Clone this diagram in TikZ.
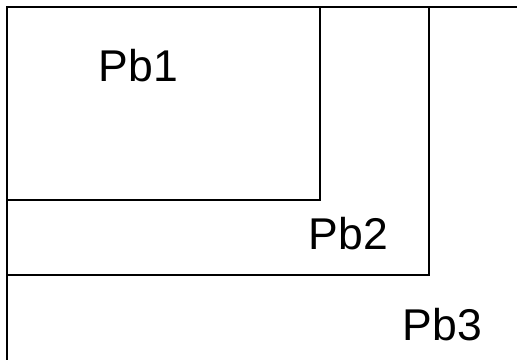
\documentclass[tikz,border=0pt]{standalone}
\usepackage{fontspec}
\setmainfont{Liberation Sans}
\begin{document}
\begin{tikzpicture}[x=1pt,y=1pt,
  boxline/.style={draw=black,line width=1.1pt},
  outerline/.style={draw=black,line width=2pt},
  lbl/.style={anchor=base west,inner sep=0pt,font=\fontsize{44.5}{50}\selectfont}]
\useasboundingbox (0,0) rectangle (517,359);
\clip (0,0) rectangle (517,359);
\draw[outerline] (7,351.5) rectangle (540,-20);
\draw[boxline] (7,351.5) rectangle (320,159);
\draw[boxline] (7,351.5) rectangle (429,84);
\draw[outerline] (7,-20) -- (7,351.5) -- (540,351.5);
\node[lbl] (pb1) at (98.5,277) {Pb1};
\node[lbl] (pb2) at (308.5,109) {Pb2};
\node[lbl] (pb3) at (402.5,19) {Pb3};
\end{tikzpicture}
\end{document}
